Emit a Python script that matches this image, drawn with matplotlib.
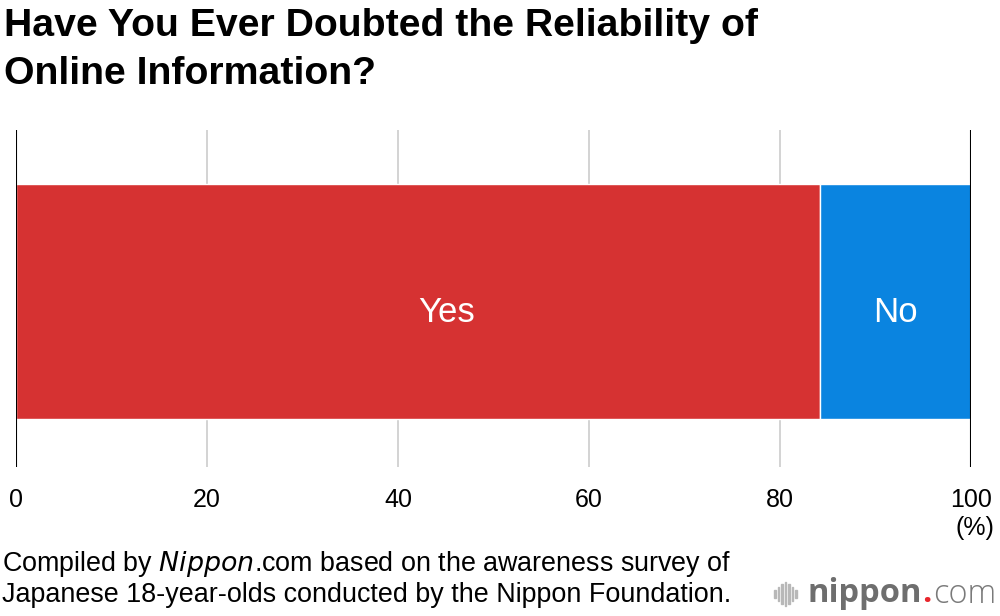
import matplotlib
matplotlib.use("Agg")
import matplotlib.pyplot as plt
from matplotlib.patches import Rectangle

plt.rcParams['font.family'] = ['Liberation Sans', 'DejaVu Sans']

categories = ["Yes", "No"]
values = [84.2, 15.8]
colors = ["#d63232", "#0a84e0"]
xticks = [0, 20, 40, 60, 80, 100]
title = "Have You Ever Doubted the Reliability of\nOnline Information?"
source = ("Compiled by $\\it{Nippon}$.com based on the awareness survey of\n"
          "Japanese 18-year-olds conducted by the Nippon Foundation.")

fig = plt.figure(figsize=(10, 6.16), dpi=100)
ax = fig.add_axes([0.016, 1 - 467/616, 0.955, (467-130)/616])

left = 0
label_x_shift = [3.0, 0.0]
for cat, v, c, dx in zip(categories, values, colors, label_x_shift):
    ax.barh(0, v, left=left, height=1.0, color=c, edgecolor="white", linewidth=1, zorder=3)
    ax.annotate(cat, xy=(left + v/2 + dx, 0), xytext=(0, -8), textcoords="offset points",
                ha="center", va="center", color="white", fontsize=25, zorder=4)
    left += v

ax.set_xlim(0, 100)
ax.set_ylim(-0.704, 0.73)
for x in xticks:
    if x in (0, 100):
        ax.axvline(x, color="black", lw=1.5, zorder=5)
    else:
        ax.axvline(x, color="#cccccc", lw=1.2, zorder=1)
for s in ax.spines.values():
    s.set_visible(False)
ax.set_yticks([])
ax.set_xticks(xticks)
ax.set_xticklabels([str(t) for t in xticks], fontsize=18)
ax.tick_params(axis="x", length=0, pad=15)
ax.annotate("(%)", xy=(1.0, 0), xycoords="axes fraction", xytext=(17, -35),
            textcoords="offset points", ha="right", va="top", fontsize=18)

fig.text(0.004, 1 - 8/616, title, ha="left", va="top", fontsize=28.3, fontweight="bold",
         linespacing=1.42)
fig.text(0.002, 1 - 549/616, source, ha="left", va="top", fontsize=19.4, linespacing=1.15)

# logo
fig.canvas.draw()
r = fig.canvas.get_renderer()
ly = 1 - 594/616
fam = ["Open Sans", "DejaVu Sans"]
t1 = fig.text(0.807, ly, "nippon", ha="left", va="center", fontsize=23.5, fontweight="bold",
              color="#6e6e6e", family=fam)
x1 = t1.get_window_extent(r).x1 / 1000
t2 = fig.text(x1 + 0.001, ly, ".", ha="left", va="center", fontsize=23.5, fontweight="bold",
              color="#e8262c", family=fam)
x2 = t2.get_window_extent(r).x1 / 1000
fig.text(x2 + 0.001, ly, "com", ha="left", va="center", fontsize=23.5, fontweight="light",
         color="#7a7a7a", family=fam)
bar_h = [8, 14, 20, 24, 20, 14, 8]
for i, h in enumerate(bar_h):
    x = 774 + i*3.5
    fig.patches.append(Rectangle((x/1000, (616-594-h/2)/616), 1.6/1000, h/616,
                                 transform=fig.transFigure, color="#b8b8b8"))

fig.savefig("out.png", dpi=100)
